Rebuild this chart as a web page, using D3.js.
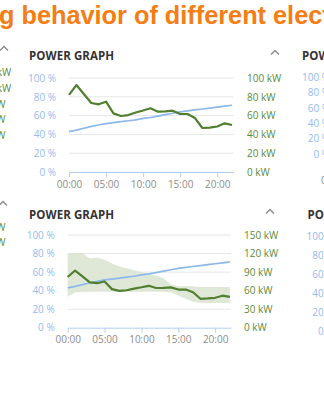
<!DOCTYPE html>
<html><head><meta charset="utf-8">
<script src="https://cdn.jsdelivr.net/npm/d3@7"></script>
<style>body{margin:0;background:#fff;overflow:hidden}svg{display:block}</style>
</head><body>
<svg id="c" width="324" height="400"></svg>
<script>
// ---------- data ----------
const pageTitle = "Charging behavior of different electric vehicles";
const panelTitle = "POWER GRAPH";
const hours = [0,1,2,3,4,5,6,7,8,9,10,11,12,13,14,15,16,17,18,19,20,21,22];
const timeTicks = [0,5,10,15,20];
const timeTickLabels = ["00:00","05:00","10:00","15:00","20:00"];
const socPct = [43,44.5,46.5,48.5,50,51.5,52.5,53.5,54.5,55.5,57,58,59.5,61,62.5,64,65,66,67,68,69,70,71];
const powerKW = [82,92.5,83,73.4,72,74.8,62.4,59.6,60.6,63.3,65.4,67.8,64.2,64.5,65.2,61.7,61.7,57.4,46.8,47.3,48.4,51.8,50];
const bandUpperKW = [120,121,121,112,113,110,104,99,96,93,90,87,84,80,70,67,67,67,66,66,66,66,66];
const bandLowerKW = [50,57,58,58,58,58,58,58,58,58,58,58,58,58,57,52,47,42,40,40,40,40,40];
const pctTicks = [0,20,40,60,80,100];
const kwTicksTop = [0,20,40,60,80,100];
const kwTicksBottom = [0,30,60,90,120,150];
const sideKwTicksTop = [0,25,50,75,100,125];
const sideKwTicksBottom = [20,40];

// ---------- style ----------
const C = {
  orange:"#f47d14", title:"#333333", blue:"#8db8ec", blueTxt:"#94bbec",
  green:"#4f7f2f", greenTxt:"#5b8a3b", gray:"#8c8c8c", grid:"#e6e6e6",
  axis:"#b3cff2", band:"#dce6d3", caret:"#8a8a8a"
};
const FONT = "'Open Sans', 'Noto Sans', sans-serif";
const TFONT = "'Liberation Sans', Arial, sans-serif";
const TSIZE = 25.3;

const svg = d3.select("#c");
svg.append("rect").attr("width",324).attr("height",400).attr("fill","#fff");

// page title (cropped on both sides as in the reference)
const tt = svg.append("text").attr("y",23.5)
  .attr("font-family",TFONT).attr("font-weight","bold").attr("font-size",TSIZE)
  .attr("fill",C.orange).text(pageTitle);
const probe = svg.append("text").attr("font-family",TFONT)
  .attr("font-weight","bold").attr("font-size",TSIZE).text("Chargin");
const pw = probe.node().getComputedTextLength(); probe.remove();
tt.attr("x", -pw - 1);

function caret(cx, cy){
  svg.append("path").attr("d",`M${cx-4},${cy+2.5}L${cx},${cy-1.5}L${cx+4},${cy+2.5}`)
    .attr("fill","none").attr("stroke",C.caret).attr("stroke-width",1.4);
}

function styleAxisText(sel, color){
  sel.selectAll("text").attr("fill",color).attr("font-family",FONT).attr("font-size",10);
  sel.select(".domain").remove();
}

function drawChart(o){
  const g = svg.append("g");
  const x = d3.scaleLinear().domain([0,o.xMax]).range([o.x0,o.x1]);
  const yP = d3.scaleLinear().domain([0,100]).range([o.yb,o.yt]);
  const yK = d3.scaleLinear().domain([0,o.kwMax]).range([o.yb,o.yt]);

  g.append("text").attr("x",o.titleX).attr("y",o.titleY)
    .attr("font-family",FONT).attr("font-weight","bold").attr("font-size",11.5)
    .attr("fill",C.title).attr("textLength",85).attr("lengthAdjust","spacing").text(panelTitle);

  g.selectAll("line.grid").data(pctTicks.filter(v=>v>0)).join("line")
    .attr("x1",o.x0).attr("x2",o.x1).attr("y1",d=>yP(d)).attr("y2",d=>yP(d))
    .attr("stroke",C.grid).attr("stroke-width",1);

  if (o.band){
    const area = d3.area().x((d,i)=>x(hours[i])).y0((d,i)=>yK(bandLowerKW[i])).y1(d=>yK(d));
    g.append("path").datum(bandUpperKW).attr("d",area).attr("fill",C.band).attr("opacity",0.9);
  }

  const line = (sc, arr)=> d3.line().x((d,i)=>x(hours[i])).y(d=>sc(d))(arr);
  g.append("path").attr("d",line(yP,socPct)).attr("fill","none")
    .attr("stroke",C.blue).attr("stroke-width",1.7);
  g.append("path").attr("d",line(yK,powerKW)).attr("fill","none")
    .attr("stroke",C.green).attr("stroke-width",2.2).attr("stroke-linejoin","round");

  const xa = g.append("g").attr("transform",`translate(0,${o.yb})`)
    .call(d3.axisBottom(x).tickValues(timeTicks).tickFormat((d,i)=>timeTickLabels[i])
      .tickSize(5).tickSizeOuter(0).tickPadding(3.5));
  xa.select(".domain").attr("stroke",C.axis);
  xa.selectAll(".tick line").attr("stroke",C.axis);
  xa.selectAll("text").attr("fill",C.gray).attr("font-family",FONT).attr("font-size",10);

  const la = g.append("g").attr("transform",`translate(${o.x0},0)`)
    .call(d3.axisLeft(yP).tickValues(pctTicks).tickFormat(d=>d+" %").tickSize(0).tickPadding(13));
  styleAxisText(la, C.blueTxt);

  const ra = g.append("g").attr("transform",`translate(${o.x1},0)`)
    .call(d3.axisRight(yK).tickValues(o.kwTicks).tickFormat(d=>d+" kW").tickSize(0).tickPadding(o.rPad));
  styleAxisText(ra, C.greenTxt);
}

drawChart({x0:69, x1:233.5, xMax:22.2, yt:78, yb:172, kwMax:100, kwTicks:kwTicksTop,
  rPad:13.5, titleX:29, titleY:60, band:false});
drawChart({x0:67.7, x1:231, xMax:22.15, yt:235, yb:327.7, kwMax:150, kwTicks:kwTicksBottom,
  rPad:13, titleX:29, titleY:218.5, band:true});

caret(275,52); caret(270,211); caret(4,48); caret(3,203);

// neighbouring panels, cropped at the edges
function sidePctAxis(xr, yt, yb, titleX, titleY){
  const y = d3.scaleLinear().domain([0,100]).range([yb,yt]);
  const a = svg.append("g").attr("transform",`translate(${xr},0)`)
    .call(d3.axisLeft(y).tickValues(pctTicks).tickFormat(d=>d+" %").tickSize(0).tickPadding(0));
  styleAxisText(a, C.blueTxt);
  svg.append("text").attr("x",titleX).attr("y",titleY).attr("font-family",FONT)
    .attr("font-weight","bold").attr("font-size",11.5).attr("fill",C.title)
    .attr("textLength",85).attr("lengthAdjust","spacing").text(panelTitle);
}
sidePctAxis(330, 77, 154, 302, 60);
sidePctAxis(334.5, 236, 331, 307.5, 218.5);
svg.append("text").attr("x",321).attr("y",183.5).attr("font-family",FONT).attr("font-size",10)
  .attr("fill",C.gray).text(timeTickLabels[0]);

function sideKwAxis(xl, ticks, yOf){
  ticks.forEach((v,i)=>{
    svg.append("text").attr("x",xl).attr("y",yOf(i)).attr("dy","0.32em")
      .attr("font-family",FONT).attr("font-size",10).attr("fill",C.greenTxt).text(v+" kW");
  });
}
const topRev = sideKwTicksTop.slice().reverse();
const sideTopY = d3.scaleLinear().domain([0,125]).range([151.5,73]);
sideKwAxis(-23, topRev, i=>sideTopY(topRev[i]));
sideKwAxis(-23, sideKwTicksBottom.slice().reverse(), i=>[228,243][i]);
</script>
</body></html>
